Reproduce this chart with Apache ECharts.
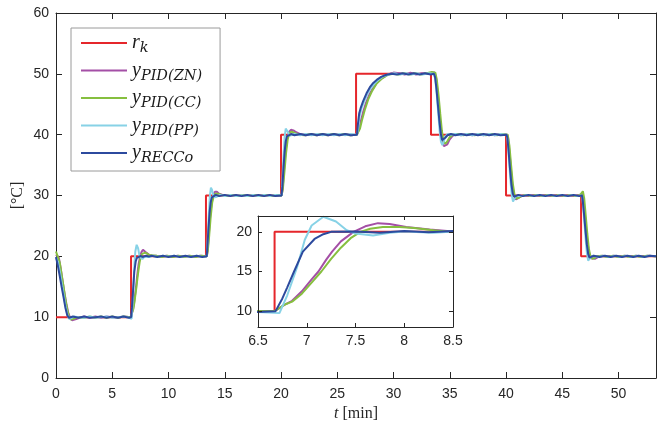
<!DOCTYPE html>
<html><head><meta charset="utf-8">
<script src="https://cdn.jsdelivr.net/npm/echarts@6/dist/echarts.min.js"></script>
<style>html,body{margin:0;padding:0;background:#fff}#c{width:659px;height:424px}</style>
</head><body><div id="c"></div>
<script>
// ---- data ----
const seriesNames = ['r_k', 'y_PID(ZN)', 'y_PID(CC)', 'y_PID(PP)', 'y_RECCo'];
const legendLabels = ['{m|r}{s|k}', '{m|y}{s|PID(ZN)}', '{m|y}{s|PID(CC)}', '{m|y}{s|PID(PP)}', '{m|y}{s|RECCo}'];
const colors = ['#e5262b', '#a44fa6', '#86bf3f', '#87d2e6', '#2c4a9e'];
const xRange = [0, 53.33];
const yRange = [0, 60];
const insetXRange = [6.5, 8.5];
const insetYRange = [8, 22];
const insetYTicks = [10, 15, 20];

const rk = [[0,10],[6.67,10],[6.67,20],[13.33,20],[13.33,30],[20,30],[20,40],[26.67,40],[26.67,50],[33.33,50],[33.33,40],[40,40],[40,30],[46.67,30],[46.67,20],[53.33,20]];

const yZN = [[0,20.3],[0.1,20.6],[0.25,19.8],[0.42,18.0],[0.58,16.0],[0.75,14.0],[0.92,12.2],[1.08,10.8],[1.25,9.9],[1.42,9.5],[1.58,9.45],[1.8,9.7],[2.1,9.9],[2.5,10.1],[3.0,9.9],[3.5,10.1],[4.0,9.9],[4.5,10.1],[5.0,10.0],[5.5,9.9],[6.0,10.1],[6.67,10.0],
[6.77,10.8],[6.85,11.3],[6.95,12.5],[7.05,14.0],[7.12,15.0],[7.2,16.5],[7.26,17.5],[7.35,18.8],[7.48,20.0],[7.6,20.7],[7.73,21.1],[7.85,21.0],[8.02,20.6],[8.26,20.3],[8.5,20.05],[8.9,20.1],[9.3,19.9],[9.8,20.1],[10.3,19.9],[10.8,20.1],[11.3,19.9],[11.8,20.1],[12.3,19.9],[12.8,20.1],[13.4,20],
[13.48,21.0],[13.6,24.0],[13.72,27.0],[13.85,29.0],[13.98,30.1],[14.12,30.6],[14.3,30.6],[14.5,30.3],[14.8,30.1],[15.2,29.9],[15.7,30.1],[16.2,29.9],[16.7,30.1],[17.2,29.9],[17.7,30.1],[18.2,29.9],[18.7,30.1],[19.2,29.9],[19.7,30.1],[20.05,30],
[20.14,31.0],[20.26,34.0],[20.4,37.2],[20.55,39.3],[20.7,40.4],[20.88,40.8],[21.1,40.7],[21.35,40.4],[21.7,40.1],[22.2,39.9],[22.7,40.1],[23.2,39.9],[23.7,40.1],[24.2,39.9],[24.7,40.1],[25.2,39.9],[25.7,40.1],[26.2,39.9],[26.75,40],
[26.85,40.3],[26.98,41.2],[27.12,42.4],[27.3,43.7],[27.55,45.2],[27.85,46.6],[28.2,47.7],[28.6,48.7],[29.0,49.3],[29.5,49.9],[30.0,50.2],[30.5,50.1],[31.0,49.9],[31.5,50.2],[32.0,49.9],[32.5,50.1],[33.0,50.0],[33.4,50.2],[33.65,50.2],
[33.78,49.4],[33.92,47.0],[34.06,44.0],[34.2,41.0],[34.34,39.0],[34.48,38.1],[34.62,37.9],[34.78,38.4],[34.98,39.2],[35.25,39.8],[35.6,40.1],[36,39.9],[36.5,40.1],[37,39.9],[37.5,40.1],[38,39.9],[38.5,40.1],[39,39.9],[39.5,40.1],[40.1,40],
[40.18,39.5],[40.3,37.3],[40.44,34.2],[40.58,31.5],[40.72,29.9],[40.88,29.35],[41.05,29.4],[41.3,29.8],[41.6,30.1],[42,29.9],[42.5,30.1],[43,29.9],[43.5,30.1],[44,29.9],[44.5,30.1],[45,29.9],[45.5,30.1],[46,29.9],[46.5,30.1],[46.75,30.2],
[46.88,29.3],[47.0,27.0],[47.13,24.2],[47.26,22.0],[47.4,20.5],[47.55,19.7],[47.72,19.45],[47.9,19.6],[48.2,19.9],[48.6,20.1],[49.1,19.9],[49.6,20.1],[50.1,19.9],[50.6,20.1],[51.1,19.9],[51.6,20.1],[52.1,19.9],[52.6,20.1],[53.33,20]];

const yCC = [[0,20.8],[0.08,21.0],[0.17,20.6],[0.33,19.0],[0.5,17.0],[0.67,15.0],[0.83,13.0],[1.0,11.2],[1.17,10.0],[1.33,9.6],[1.5,9.55],[1.67,9.8],[2.0,10.0],[2.5,9.9],[3.0,10.1],[3.5,9.9],[4.0,10.1],[4.5,9.9],[5.0,10.1],[5.5,9.9],[6.0,10.1],[6.67,10.0],
[6.77,10.8],[6.85,11.2],[6.95,12.2],[7.05,13.6],[7.15,15.0],[7.25,16.6],[7.35,18.0],[7.45,19.2],[7.55,20.0],[7.65,20.4],[7.78,20.6],[7.95,20.6],[8.1,20.5],[8.3,20.2],[8.45,20.0],[8.9,20.1],[9.4,19.9],[9.9,20.1],[10.4,19.9],[10.9,20.1],[11.4,19.9],[11.9,20.1],[12.4,19.9],[12.9,20.1],[13.4,20],
[13.5,21.0],[13.62,23.5],[13.75,26.5],[13.88,28.8],[14.02,29.9],[14.18,30.3],[14.4,30.3],[14.7,30.1],[15.1,29.9],[15.6,30.1],[16.1,29.9],[16.6,30.1],[17.1,29.9],[17.6,30.1],[18.1,29.9],[18.6,30.1],[19.1,29.9],[19.6,30.1],[20.05,30],
[20.16,31.0],[20.3,33.8],[20.45,37.0],[20.6,39.3],[20.76,40.3],[20.95,40.5],[21.2,40.3],[21.6,40.0],[22.1,39.9],[22.6,40.1],[23.1,39.9],[23.6,40.1],[24.1,39.9],[24.6,40.1],[25.1,39.9],[25.6,40.1],[26.1,39.9],[26.75,40],
[26.88,40.2],[27.02,41.0],[27.2,42.4],[27.45,44.1],[27.75,45.8],[28.1,47.2],[28.5,48.4],[28.95,49.2],[29.45,49.8],[29.95,50.0],[30.45,49.9],[30.95,50.1],[31.45,49.9],[31.95,50.1],[32.45,49.9],[32.95,50.1],[33.4,50.3],[33.72,50.2],
[33.85,49.0],[34.0,46.5],[34.15,43.5],[34.3,40.6],[34.45,38.9],[34.6,38.5],[34.78,38.9],[35.0,39.6],[35.3,40.0],[35.7,40.1],[36.2,39.9],[36.7,40.1],[37.2,39.9],[37.7,40.1],[38.2,39.9],[38.7,40.1],[39.2,39.9],[39.7,40.1],[40.15,40.0],
[40.3,38.2],[40.45,35.0],[40.6,32.0],[40.75,30.2],[40.92,29.5],[41.1,29.6],[41.35,29.9],[41.7,30.1],[42.2,29.9],[42.7,30.1],[43.2,29.9],[43.7,30.1],[44.2,29.9],[44.7,30.1],[45.2,29.9],[45.7,30.1],[46.2,29.9],[46.6,30.1],
[46.72,30.4],[46.83,30.7],[46.95,29.5],[47.08,26.8],[47.22,23.8],[47.36,21.3],[47.5,20.0],[47.66,19.6],[47.85,19.7],[48.1,20.0],[48.5,20.1],[49,19.9],[49.5,20.1],[50,19.9],[50.5,20.1],[51,19.9],[51.5,20.1],[52,19.9],[52.5,20.1],[53.33,20]];

const yPP = [[0,19.7],[0.17,19.1],[0.33,17.6],[0.5,15.7],[0.67,13.8],[0.83,12.0],[1.0,10.5],[1.17,9.7],[1.33,9.7],[1.6,10.1],[2.0,10.0],[2.5,9.9],[3.0,10.1],[3.5,9.9],[4.0,10.0],[4.5,10.1],[5.0,9.9],[5.5,10.0],[6.0,10.1],[6.5,9.9],[6.72,9.75],
[6.8,12.0],[6.9,15.5],[6.98,19.0],[7.05,20.8],[7.17,21.9],[7.3,21.3],[7.41,20.2],[7.5,19.8],[7.68,19.55],[7.85,19.9],[8.0,20.05],[8.3,19.9],[8.6,20.1],[9.0,19.9],[9.5,20.1],[10,19.95],[10.5,20.1],[11,19.9],[11.5,20.05],[12,19.9],[12.5,20.1],[13,19.9],[13.4,20],
[13.47,22.5],[13.57,26.5],[13.67,29.8],[13.77,31.3],[13.87,30.9],[13.97,30.1],[14.1,29.7],[14.3,29.8],[14.6,30.1],[15,29.9],[15.5,30.1],[16,29.9],[16.5,30.05],[17,29.9],[17.5,30.1],[18,29.9],[18.5,30.1],[19,29.9],[19.5,30.1],[20.05,30],
[20.12,32.5],[20.22,36.5],[20.32,39.6],[20.42,41.0],[20.52,41.1],[20.62,40.4],[20.75,39.8],[20.9,39.8],[21.2,40.1],[21.7,39.9],[22.2,40.1],[22.7,39.9],[23.2,40.1],[23.7,39.9],[24.2,40.1],[24.7,39.9],[25.2,40.1],[25.7,39.9],[26.2,40.1],[26.75,40],
[26.85,41.0],[26.98,43.0],[27.15,44.3],[27.4,45.5],[27.7,46.8],[28.0,47.7],[28.3,48.4],[28.7,49.1],[29.1,49.6],[29.6,49.9],[30.1,50.1],[30.6,49.9],[31.1,50.1],[31.6,49.9],[32.1,50.1],[32.6,49.9],[33.1,50.1],[33.6,50],
[33.72,49.0],[33.85,46.5],[33.98,43.5],[34.1,40.6],[34.22,38.8],[34.34,38.3],[34.47,38.9],[34.6,39.7],[34.8,40.1],[35.1,40.0],[35.5,40.1],[36,39.9],[36.5,40.1],[37,39.9],[37.5,40.1],[38,39.9],[38.5,40.1],[39,39.9],[39.5,40.1],[40.05,40],
[40.14,39.0],[40.26,36.0],[40.38,32.8],[40.5,30.2],[40.62,29.0],[40.74,29.2],[40.88,29.9],[41.05,30.2],[41.4,29.9],[41.9,30.1],[42.4,29.9],[42.9,30.1],[43.4,29.9],[43.9,30.1],[44.4,29.9],[44.9,30.1],[45.4,29.9],[45.9,30.1],[46.4,29.9],[46.75,30],
[46.84,28.6],[46.95,26.0],[47.07,23.0],[47.19,20.5],[47.3,19.3],[47.42,19.4],[47.55,19.9],[47.75,20.1],[48.2,19.9],[48.7,20.1],[49.2,19.9],[49.7,20.1],[50.2,19.9],[50.7,20.1],[51.2,19.9],[51.7,20.1],[52.2,19.9],[52.7,20.1],[53.33,20]];

const yRECCo = [[0,19.9],[0.17,18.4],[0.33,16.8],[0.5,15.0],[0.67,13.3],[0.83,11.6],[1.0,10.3],[1.17,9.9],[1.5,10.1],[2.0,9.9],[2.5,10.1],[3.0,9.9],[3.5,10.0],[4.0,10.1],[4.5,9.9],[5.0,10.1],[5.5,9.9],[6.0,10.1],[6.5,9.9],[6.68,10.0],
[6.75,11.6],[6.8,13.0],[6.87,15.0],[6.96,17.5],[7.08,19.1],[7.17,19.7],[7.25,20.0],[7.5,20.05],[7.75,19.9],[8.0,20.1],[8.25,19.95],[8.5,20.1],[9.0,19.9],[9.5,20.1],[10,19.9],[10.5,20.1],[11,19.9],[11.5,20.1],[12,19.9],[12.5,20.1],[13,19.9],[13.4,20],
[13.45,21.5],[13.55,24.5],[13.65,27.2],[13.75,28.9],[13.85,29.7],[13.95,30.0],[14.2,30.1],[14.5,29.9],[15,30.1],[15.5,29.9],[16,30.1],[16.5,29.9],[17,30.1],[17.5,29.9],[18,30.1],[18.5,29.9],[19,30.1],[19.5,29.9],[20.05,30],
[20.12,31.5],[20.22,34.5],[20.32,37.2],[20.42,38.9],[20.52,39.7],[20.62,40.0],[20.9,40.1],[21.2,39.9],[21.7,40.1],[22.2,39.9],[22.7,40.1],[23.2,39.9],[23.7,40.1],[24.2,39.9],[24.7,40.1],[25.2,39.9],[25.7,40.1],[26.2,39.9],[26.75,40],
[26.82,41.5],[26.95,43.5],[27.1,44.5],[27.3,45.5],[27.6,46.8],[27.9,47.8],[28.2,48.5],[28.5,49.0],[28.9,49.5],[29.3,49.8],[29.8,50.0],[30.3,49.9],[30.8,50.1],[31.3,49.9],[31.8,50.1],[32.3,49.9],[32.8,50.1],[33.3,49.9],[33.6,50],
[33.7,49.4],[33.82,47.5],[33.95,44.8],[34.08,42.2],[34.2,40.2],[34.32,39.1],[34.45,39.0],[34.6,39.5],[34.8,39.9],[35.1,40.1],[35.5,39.9],[36,40.1],[36.5,39.9],[37,40.1],[37.5,39.9],[38,40.1],[38.5,39.9],[39,40.1],[39.5,39.9],[40.05,40],
[40.12,39.5],[40.22,37.5],[40.35,34.5],[40.48,31.8],[40.6,30.3],[40.72,29.8],[40.85,29.9],[41.1,30.1],[41.5,29.9],[42,30.1],[42.5,29.9],[43,30.1],[43.5,29.9],[44,30.1],[44.5,29.9],[45,30.1],[45.5,29.9],[46,30.1],[46.5,29.9],[46.75,30],
[46.82,29.2],[46.92,27.2],[47.05,24.5],[47.18,22.0],[47.3,20.4],[47.42,19.8],[47.55,19.9],[47.8,20.1],[48.3,19.9],[48.8,20.1],[49.3,19.9],[49.8,20.1],[50.3,19.9],[50.8,20.1],[51.3,19.9],[51.8,20.1],[52.3,19.9],[52.8,20.1],[53.33,20]];

const allData = [rk, yZN, yCC, yPP, yRECCo];

// ---- chart ----
const AX = '#262626';
const sans = 'Liberation Sans';
const serif = 'Liberation Serif';
const lblStyle = {fontFamily: sans, fontSize: 14, color: AX};

function boxAxis(base, extra) { return Object.assign({
  type: 'value', splitLine: {show: false},
  axisLine: {show: true, onZero: false, lineStyle: {color: AX, width: 1}},
  axisTick: {show: true, inside: true, length: 6, lineStyle: {color: AX}},
  axisLabel: Object.assign({show: true}, lblStyle)
}, base, extra); }

const legendMap = {};
seriesNames.forEach((n, i) => legendMap[n] = legendLabels[i]);

const series = [];
[0, 1].forEach(g => {
  seriesNames.forEach((n, i) => {
    series.push({
      name: n, type: 'line', xAxisIndex: g === 0 ? 0 : 2, yAxisIndex: g === 0 ? 0 : 2,
      data: allData[i], showSymbol: false, symbol: 'none', clip: true,
      lineStyle: {color: colors[i], width: 2}, itemStyle: {color: colors[i]},
      z: g === 0 ? 2 : 11, silent: true, emphasis: {disabled: true}
    });
  });
});

const chart = echarts.init(document.getElementById('c'), null, {renderer: 'canvas'});
chart.setOption({
  animation: false,
  backgroundColor: '#fff',
  grid: [
    {left: 56, right: 3, top: 13, bottom: 46, show: false, outerBoundsMode: 'none', containLabel: false},
    {left: 258, right: 206, top: 216, bottom: 97, show: true, backgroundColor: '#fff', borderWidth: 0, z: 10, outerBoundsMode: 'none', containLabel: false}
  ],
  legend: {
    data: seriesNames, orient: 'vertical', left: 71, top: 28,
    padding: [5, 18, 5, 10], itemGap: 4.5, itemWidth: 46, itemHeight: 2, itemTextGap: 5,
    icon: 'rect', borderColor: '#9a9a9a', borderWidth: 1, backgroundColor: '#fff',
    selectedMode: false, z: 20,
    formatter: n => legendMap[n],
    textStyle: {
      color: '#1a1a1a',
      rich: {
        m: {fontFamily: serif, fontStyle: 'italic', fontSize: 20, lineHeight: 26, color: '#1a1a1a'},
        s: {fontFamily: 'DejaVu Serif', fontStyle: 'italic', fontSize: 14.5, lineHeight: 14, verticalAlign: 'bottom', color: '#1a1a1a'}
      }
    }
  },
  xAxis: [
    boxAxis({gridIndex: 0, position: 'bottom', min: xRange[0], max: xRange[1], interval: 5,
      name: '{i|t} [min]', nameLocation: 'middle', nameGap: 28,
      nameTextStyle: {fontFamily: serif, fontSize: 16, color: AX, rich: {i: {fontFamily: serif, fontStyle: 'italic', fontSize: 16, color: AX}}}},
      {axisLabel: Object.assign({margin: 9, showMaxLabel: false}, lblStyle)}),
    boxAxis({gridIndex: 0, position: 'top', min: xRange[0], max: xRange[1], interval: 5}, {axisLabel: {show: false}}),
    boxAxis({gridIndex: 1, position: 'bottom', min: insetXRange[0], max: insetXRange[1], interval: 0.5, z: 12},
      {axisTick: {show: true, inside: true, length: 4, lineStyle: {color: AX}}, axisLabel: Object.assign({margin: 7}, lblStyle)}),
    boxAxis({gridIndex: 1, position: 'top', min: insetXRange[0], max: insetXRange[1], interval: 0.5, z: 12},
      {axisTick: {show: true, inside: true, length: 4, lineStyle: {color: AX}}, axisLabel: {show: false}})
  ],
  yAxis: [
    boxAxis({gridIndex: 0, position: 'left', min: yRange[0], max: yRange[1], interval: 10,
      name: '[°C]', nameLocation: 'middle', nameGap: 30, nameRotate: 90, nameMoveOverlap: false,
      nameTextStyle: {fontFamily: serif, fontSize: 16, color: AX}},
      {axisLabel: Object.assign({margin: 7}, lblStyle)}),
    boxAxis({gridIndex: 0, position: 'right', min: yRange[0], max: yRange[1], interval: 10}, {axisLabel: {show: false}}),
    boxAxis({gridIndex: 1, position: 'left', min: insetYRange[0], max: insetYRange[1], z: 12},
      {axisTick: {show: true, inside: true, length: 4, customValues: insetYTicks, lineStyle: {color: AX}},
       axisLabel: Object.assign({margin: 6, customValues: insetYTicks}, lblStyle)}),
    boxAxis({gridIndex: 1, position: 'right', min: insetYRange[0], max: insetYRange[1], z: 12},
      {axisTick: {show: true, inside: true, length: 4, customValues: insetYTicks, lineStyle: {color: AX}}, axisLabel: {show: false}})
  ],
  series: series
});
</script>
</body></html>
